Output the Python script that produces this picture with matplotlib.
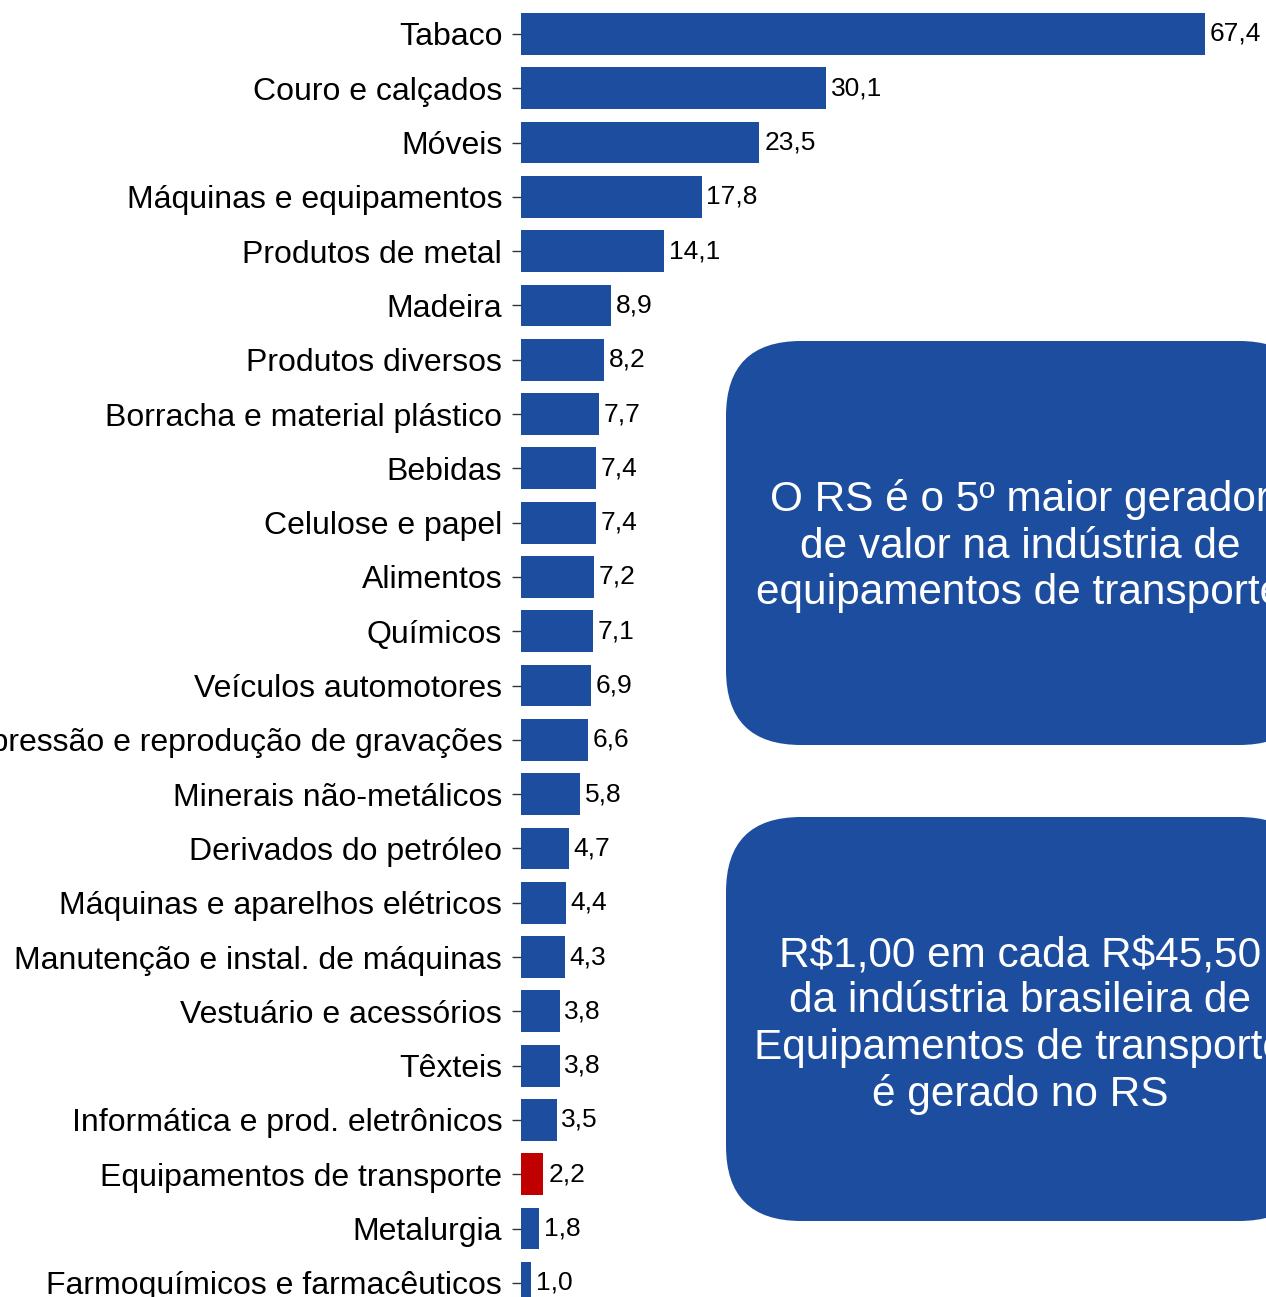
import matplotlib
matplotlib.use("Agg")
from matplotlib import pyplot as plt
from matplotlib.patches import FancyBboxPatch

plt.rcParams['font.family'] = ['Liberation Sans', 'DejaVu Sans']

setores = ["Tabaco", "Couro e calçados", "Móveis", "Máquinas e equipamentos",
           "Produtos de metal", "Madeira", "Produtos diversos",
           "Borracha e material plástico", "Bebidas", "Celulose e papel",
           "Alimentos", "Químicos", "Veículos automotores",
           "Impressão e reprodução de gravações", "Minerais não-metálicos",
           "Derivados do petróleo", "Máquinas e aparelhos elétricos",
           "Manutenção e instal. de máquinas", "Vestuário e acessórios",
           "Têxteis", "Informática e prod. eletrônicos",
           "Equipamentos de transporte", "Metalurgia",
           "Farmoquímicos e farmacêuticos"]
valores = [67.4, 30.1, 23.5, 17.8, 14.1, 8.9, 8.2, 7.7, 7.4, 7.4, 7.2, 7.1,
           6.9, 6.6, 5.8, 4.7, 4.4, 4.3, 3.8, 3.8, 3.5, 2.2, 1.8, 1.0]
destaque = "Equipamentos de transporte"

texto_1 = "O RS é o 5º maior gerador\nde valor na indústria de\nequipamentos de transporte"
texto_2 = ("R\\$1,00 em cada R\\$45,50\nda indústria brasileira de\n"
           "Equipamentos de transporte\né gerado no RS")

azul = "#1D4D9E"
vermelho = "#C00000"

W, H = 1266, 1297
fig = plt.figure(figsize=(W / 100, H / 100), dpi=100)

ax = fig.add_axes([521 / W, 0, 710 / W, 1])
cores = [vermelho if s == destaque else azul for s in setores]
pos = list(range(len(setores)))
bars = ax.barh(pos, valores, height=0.77, color=cores)
ax.bar_label(bars, labels=[f"{v:.1f}".replace(".", ",") for v in valores],
             padding=3.5, fontsize=19)
ax.set_xlim(0, 70)
ax.set_ylim(23.26, -0.626)
ax.set_yticks(pos)
ax.set_yticklabels(setores, fontsize=23)
ax.tick_params(axis='y', length=6.5, pad=7, color="#333333", width=1)
ax.set_xticks([])
for sp in ax.spines.values():
    sp.set_visible(False)

# caixas de destaque
ov = fig.add_axes([0, 0, 1, 1])
ov.set_xlim(0, W)
ov.set_ylim(H, 0)
ov.axis('off')
ov.patch.set_visible(False)
for (y0, y1), txt, dy in [((341, 745), texto_1, 3), ((817, 1221), texto_2, 6)]:
    box = FancyBboxPatch((726, y0), 588, y1 - y0,
                         boxstyle="round,pad=0,rounding_size=75",
                         facecolor=azul, edgecolor="none")
    ov.add_patch(box)
    ov.text(726 + 294, (y0 + y1) / 2 + dy, txt, color="white", fontsize=30.5,
            ha="center", va="center", linespacing=1.2, multialignment="center")

fig.savefig("out.png", dpi=100)
